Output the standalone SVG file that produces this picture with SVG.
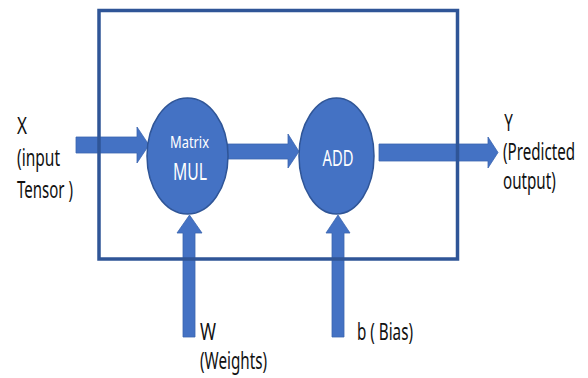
<svg xmlns="http://www.w3.org/2000/svg" width="588" height="378" viewBox="0 0 588 378">
  <style>
    .op { fill: #4472C4; stroke: #2F5597; stroke-width: 1.5; }
    .flow { fill: #4472C4; stroke: #3A65B0; stroke-width: 0.8; }
    .frame { fill: none; stroke: #2F5597; stroke-width: 3.5; }
    .lbl { font-family: "Noto Sans", "Liberation Sans", sans-serif; font-size: 23px; fill: #111; }
    .in { font-family: "Noto Sans", "Liberation Sans", sans-serif; fill: #fff; text-anchor: middle; }
  </style>
  <rect width="588" height="378" fill="#fff"/>

  <!-- block arrows -->
  <g id="connectors">
    <polygon class="flow" points="76,137 137,137 137,127 149,145 137,163 137,153 76,153"/>
    <polygon class="flow" points="228,144 288,144 288,134 299,151.5 288,168 288,159 228,159"/>
    <polygon class="flow" points="379,144 488,144 488,137 498,152.5 488,168 488,161 379,161"/>
    <polygon class="flow" points="183,337 183,233 177,233 189.5,215 202,233 195,233 195,337"/>
    <polygon class="flow" points="332,337 332,233 326,233 338,215 350,233 344,233 344,337"/>
  </g>

  <!-- layer boundary -->
  <rect class="frame" x="99" y="10.5" width="358.5" height="248.5"/>

  <g id="matmul">
    <ellipse class="op" cx="187.5" cy="156" rx="40.5" ry="58"/>
    <text class="in" x="189.5" y="148" font-size="17" textLength="39" lengthAdjust="spacingAndGlyphs">Matrix</text>
    <text class="in" x="190" y="180" font-size="24" textLength="34" lengthAdjust="spacingAndGlyphs">MUL</text>
  </g>

  <g id="add">
    <ellipse class="op" cx="336.5" cy="156" rx="37.5" ry="58"/>
    <text class="in" x="338" y="165.5" font-size="22" textLength="31" lengthAdjust="spacingAndGlyphs">ADD</text>
  </g>

  <g id="input-x">
    <text class="lbl" x="17" y="134" textLength="10" lengthAdjust="spacingAndGlyphs">X</text>
    <text class="lbl" x="17" y="166" textLength="43" lengthAdjust="spacingAndGlyphs">(input</text>
    <text class="lbl" x="17" y="198" textLength="56" lengthAdjust="spacingAndGlyphs">Tensor )</text>
  </g>

  <!-- narrow right-hand label: condensed horizontally so it fits the margin -->
  <g id="output-y" transform="translate(503,0) scale(0.66,1)">
    <text class="lbl" x="2" y="131">Y</text>
    <text class="lbl" x="0" y="160">(Predicted</text>
    <text class="lbl" x="0" y="189">output)</text>
  </g>

  <g id="weights">
    <text class="lbl" x="200" y="340" textLength="16" lengthAdjust="spacingAndGlyphs">W</text>
    <text class="lbl" x="200" y="369" textLength="67" lengthAdjust="spacingAndGlyphs">(Weights)</text>
  </g>

  <g id="bias">
    <text class="lbl" x="357" y="340" textLength="56" lengthAdjust="spacingAndGlyphs">b ( Bias)</text>
  </g>
</svg>
